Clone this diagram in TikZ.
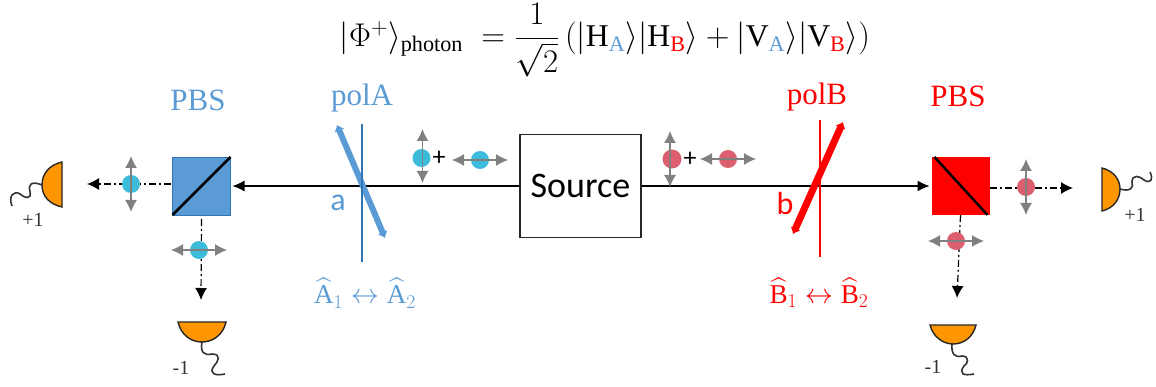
\documentclass[tikz,border=0pt]{standalone}
\usepackage{amsmath,amssymb}
\usepackage{fontspec}
\setmainfont{Liberation Serif}
\newfontfamily\calibrifont{Carlito}
\usepackage{tikz}
\usetikzlibrary{arrows.meta,positioning}
\definecolor{armblue}{RGB}{91,155,213}
\definecolor{armblueline}{RGB}{46,117,182}
\definecolor{dotblue}{RGB}{60,188,218}
\definecolor{dotred}{RGB}{220,95,112}
\definecolor{armred}{RGB}{255,0,0}
\definecolor{detorange}{RGB}{255,150,0}
\definecolor{polgray}{RGB}{128,128,128}
\tikzset{
  pbscube/.style={draw=none,minimum size=58pt,inner sep=0pt,outer sep=0pt},
  poldot/.style={circle,minimum size=18pt,inner sep=0pt,outer sep=0pt},
  polarrow/.style={{Latex[length=12pt,width=12pt]}-{Latex[length=12pt,width=12pt]},polgray,line width=1.3pt},
  beam/.style={-{Latex[length=12pt,width=11pt]},black,line width=1.2pt},
  outbeam/.style={-{Latex[length=12pt,width=12pt]},black,line width=1.2pt,dash pattern=on 7pt off 3pt on 2pt off 3pt},
  detector/.style={draw=black!85,fill=detorange,line width=1.4pt},
  wire/.style={draw=black!80,line width=1.6pt},
  axisarrow/.style={{Latex[length=6pt,width=11pt]}-{Latex[length=6pt,width=11pt]},line width=6pt},
}
\begin{document}
\begin{tikzpicture}[x=1pt,y=-1pt]
    \useasboundingbox (0,0) rectangle (1156,387);

    % State
    \node[font=\fontsize{24}{28}\selectfont,scale=1.32,inner sep=0pt] (state) at (605,40)
      {$|\Phi^{+}\rangle_{\mathrm{photon}}\;=\dfrac{1}{\sqrt{2}}\,(|\mathrm{H}_{\textcolor{armblue}{\mathrm{A}}}\rangle|\mathrm{H}_{\textcolor{armred}{\mathrm{B}}}\rangle+|\mathrm{V}_{\textcolor{armblue}{\mathrm{A}}}\rangle|\mathrm{V}_{\textcolor{armred}{\mathrm{B}}}\rangle)$};

    % Source
    \node[draw=black!85,line width=1.2pt,minimum width=121pt,minimum height=103pt,inner sep=0pt,outer sep=1pt,
      font=\calibrifont\fontsize{36}{40}\selectfont] (source) at (580.5,186) {Source};

    % Arm A
    \node[pbscube,fill=armblue,draw=armblueline,line width=0.8pt] (pbsA) at (201.5,186) {};
    \draw[black,line width=2.5pt] (pbsA.south west) -- (pbsA.north east);
    \draw[beam] (source.west) -- ([xshift=2pt]pbsA.east);
    \node[armblue,font=\fontsize{31}{34}\selectfont] (pbsAlabel) at (198,100) {PBS};
    \node[armblue,font=\fontsize{31}{34}\selectfont] (polAlabel) at (362,98) {polA};
    \coordinate (polAtop) at (362,124);
    \coordinate (polAbot) at (362,262);
    \coordinate (axisAtop) at (337,125);
    \coordinate (axisAbot) at (385,238);
    \draw[axisarrow,armblue] (axisAtop) -- (axisAbot);
    \draw[armblueline,line width=2pt] (polAtop) -- (polAbot);
    \node[armblue,font=\calibrifont\fontsize{32}{36}\selectfont] (aLabel) at (338,203) {a};
    \node[armblue,font=\fontsize{24}{28}\selectfont,scale=1.13] (obsA) at (365,293)
      {$\widehat{\mathrm{A}}_1\leftrightarrow\widehat{\mathrm{A}}_2$};

    % Photon A
    \node[poldot,fill=dotblue] (vA) at (421.5,158) {};
    \draw[polarrow] ([xshift=1pt,yshift=29pt]vA.center) -- ([xshift=1pt,yshift=-25pt]vA.center);
    \node[font=\calibrifont\fontsize{26}{30}\selectfont] (plusA) at (439,158) {+};
    \node[poldot,fill=dotblue] (hA) at (480,160) {};
    \draw[polarrow] ([xshift=-28pt]hA.center) -- ([xshift=28pt]hA.center);

    % Output of PBS A
    \coordinate (outAtip) at (87,184);
    \draw[outbeam] ([xshift=-2pt]pbsA.west |- outAtip) -- (outAtip);
    \node[poldot,fill=dotblue] (outAv) at (131,184) {};
    \draw[polarrow] ([yshift=28pt]outAv.center) -- ([yshift=-28pt]outAv.center);
    \coordinate (downAtip) at (201,300);
    \draw[outbeam] ([yshift=-4pt]pbsA.south) -- (downAtip);
    \node[poldot,fill=dotblue] (outAh) at (199,250) {};
    \draw[polarrow] ([xshift=-28pt]outAh.center) -- ([xshift=28pt]outAh.center);

    % Detectors A
    \draw[detector] (62,162) .. controls (49,165) and (42,174) .. (42,185) .. controls (42,196) and (49,204) .. (62,207) -- cycle;
    \draw[wire] (42,185) .. controls (30,180) and (28,186) .. (30,192) .. controls (32,200) and (24,198) .. (20,194) .. controls (14,190) and (8,196) .. (12,206);
    \node[black!80,font=\fontsize{20}{24}\selectfont] (plusoneA) at (33,220) {+1};
    \draw[detector] (178,322) .. controls (181,335) and (191,342) .. (202,342) .. controls (213,342) and (223,335) .. (226,322) -- cycle;
    \draw[wire] (202,342) .. controls (200,352) and (204,356) .. (212,354) .. controls (222,354) and (218,362) .. (214,366) .. controls (208,374) and (216,376) .. (225,374);
    \node[black!80,font=\fontsize{20}{24}\selectfont] (minusoneA) at (181,368) {-1};

    % Arm B
    \node[pbscube,fill=armred] (pbsB) at (960.5,186) {};
    \draw[black,line width=2.5pt] ([xshift=3pt]pbsB.north west) -- ([xshift=-2pt]pbsB.south east);
    \draw[beam] (source.east) -- ([xshift=-2pt]pbsB.west);
    \node[armred,font=\fontsize{31}{34}\selectfont] (pbsBlabel) at (958,96) {PBS};
    \node[armred,font=\fontsize{31}{34}\selectfont] (polBlabel) at (817,97) {polB};
    \coordinate (polBtop) at (820,120);
    \coordinate (polBbot) at (820,257);
    \draw[armred,line width=2pt] (polBtop) -- (polBbot);
    \coordinate (axisBtop) at (843,122);
    \coordinate (axisBbot) at (793,234);
    \draw[axisarrow,armred,line width=7pt] (axisBtop) -- (axisBbot);
    \node[armred,font=\calibrifont\fontsize{32}{36}\selectfont] (bLabel) at (785,204) {b};
    \node[armred,font=\fontsize{24}{28}\selectfont,scale=1.13] (obsB) at (819,293)
      {$\widehat{\mathrm{B}}_1\leftrightarrow\widehat{\mathrm{B}}_2$};

    % Photon B
    \node[poldot,fill=dotred,minimum size=19pt] (vB) at (672,159) {};
    \draw[polarrow] ([xshift=-2pt,yshift=28pt]vB.center) -- ([xshift=-2pt,yshift=-28pt]vB.center);
    \node[font=\calibrifont\fontsize{26}{30}\selectfont] (plusB) at (690,159) {+};
    \node[poldot,fill=dotred] (hB) at (728,159) {};
    \draw[polarrow] ([xshift=-28pt]hB.center) -- ([xshift=28pt]hB.center);

    % Output of PBS B
    \coordinate (outBtip) at (1073,188);
    \draw[outbeam] (pbsB.east |- outBtip) -- (outBtip);
    \node[poldot,fill=dotred] (outBv) at (1026,187) {};
    \draw[polarrow] ([yshift=28pt]outBv.center) -- ([yshift=-28pt]outBv.center);
    \coordinate (downBtip) at (957,298);
    \draw[outbeam] (pbsB.south) -- (downBtip);
    \node[poldot,fill=dotred] (outBh) at (956,241) {};
    \draw[polarrow] ([xshift=-28pt]outBh.center) -- ([xshift=28pt]outBh.center);

    % Detectors B
    \draw[detector] (1102,168) .. controls (1114,171) and (1120,180) .. (1120,189) .. controls (1120,199) and (1114,208) .. (1102,211) -- cycle;
    \draw[wire] (1120,189) .. controls (1130,192) and (1134,188) .. (1132,182) .. controls (1132,174) and (1140,176) .. (1144,180) .. controls (1150,184) and (1154,180) .. (1150,172);
    \node[black!80,font=\fontsize{20}{24}\selectfont] (plusoneB) at (1135,215) {+1};
    \draw[detector] (930,325) .. controls (933,337) and (943,344) .. (953,344) .. controls (964,344) and (973,337) .. (976,325) -- cycle;
    \draw[wire] (952,344) .. controls (951,354) and (955,358) .. (962,356) .. controls (970,356) and (968,364) .. (964,366) .. controls (958,374) and (964,376) .. (974,374);
    \node[black!80,font=\fontsize{20}{24}\selectfont] (minusoneB) at (933,367) {-1};
\end{tikzpicture}
\end{document}
